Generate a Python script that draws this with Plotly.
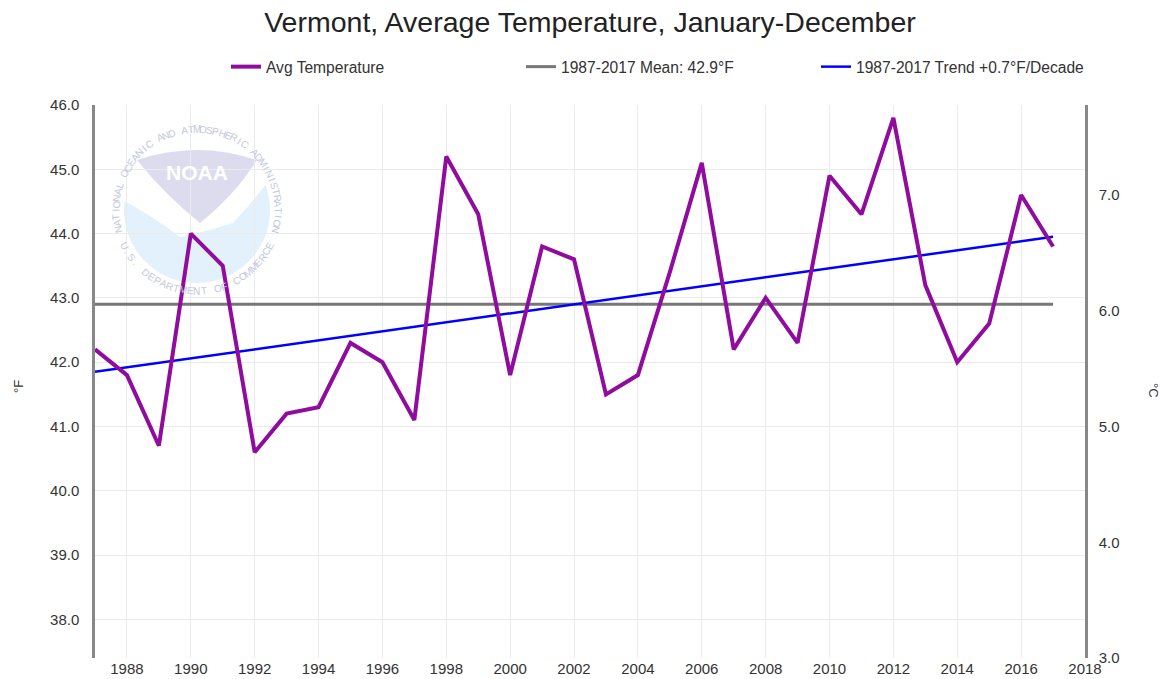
import math
import plotly.graph_objects as go

# ---------------- data ----------------
years = list(range(1987, 2018))
avg_temp_f = [42.2, 41.8, 40.7, 44.0, 43.5, 40.6, 41.2, 41.3, 42.3, 42.0,
              41.1, 45.2, 44.3, 41.8, 43.8, 43.6, 41.5, 41.8, 43.4, 45.1,
              42.2, 43.0, 42.3, 44.9, 44.3, 45.8, 43.2, 42.0, 42.6, 44.6, 43.8]
mean_years = [1987, 2017]
mean_value_f = [42.9, 42.9]
trend_years = [1987, 2017]
trend_values_f = [41.85, 43.95]
x_tick_vals = list(range(1988, 2019, 2))
y_tick_vals = [38, 39, 40, 41, 42, 43, 44, 45, 46]
c_tick_vals = [3, 4, 5, 6, 7]
y_range_f = [37.4, 46.0]

title_text = "Vermont, Average Temperature, January-December"
name_avg = "Avg Temperature"
name_mean = "1987-2017 Mean: 42.9°F"
name_trend = "1987-2017 Trend +0.7°F/Decade"
ring_top = "NATIONAL OCEANIC AND ATMOSPHERIC ADMINISTRATION"
ring_bottom = "U.S. DEPARTMENT OF COMMERCE"

# ---------------- layout geometry ----------------
W, H = 1164, 679
L, R, T, B = 95, 79, 105, 21
PW, PH = W - L - R, H - T - B
FONT = "Liberation Sans, Arial, Helvetica, sans-serif"


def px(x):
    return (x - L) / PW


def py(y):
    return (H - B - y) / PH


fig = go.Figure()

fig.add_trace(go.Scatter(x=mean_years, y=mean_value_f, mode="lines", name=name_mean,
                         line=dict(color="#777777", width=3), legendrank=2))
fig.add_trace(go.Scatter(x=trend_years, y=trend_values_f, mode="lines", name=name_trend,
                         line=dict(color="#0000ff", width=2.5), legendrank=3))
fig.add_trace(go.Scatter(x=years, y=avg_temp_f, mode="lines", name=name_avg,
                         line=dict(color="#900c9e", width=4), legendrank=1))
fig.add_trace(go.Scatter(x=[], y=[], yaxis="y2", showlegend=False, hoverinfo="skip"))

# ---------------- NOAA watermark ----------------
cx, cy, rd = 197, 210, 73
shapes = []
shapes.append(dict(type="circle", xref="paper", yref="paper", layer="below",
                   x0=px(cx - rd), x1=px(cx + rd), y0=py(cy + rd), y1=py(cy - rd),
                   fillcolor="#e2f1fb", line=dict(width=0)))


def pth(cmds):
    out = []
    for c in cmds:
        if isinstance(c, str):
            out.append(c)
        else:
            out.append(f"{px(c[0]):.5f},{py(c[1]):.5f}")
    return " ".join(out)


white_path = pth(["M", (110, 193), "Q", (150, 214), (180, 237), "Q", (205, 232), (233, 223),
                  "Q", (255, 200), (278, 168), "L", (278, 128), "L", (110, 128), "Z"])
shapes.append(dict(type="path", xref="paper", yref="paper", layer="below", path=white_path,
                   fillcolor="#ffffff", line=dict(width=0)))
lav_path = pth(["M", (137, 160), "Q", (197, 140), (257, 160), "Q", (235, 195), (200, 223),
                "Q", (165, 195), (137, 160), "Z"])
shapes.append(dict(type="path", xref="paper", yref="paper", layer="below", path=lav_path,
                   fillcolor="#dcdcee", line=dict(width=0)))


def ann(text, x, y, size, color, angle=0):
    return dict(text=text, x=px(x), y=py(y), xref="paper", yref="paper",
                xanchor="center", yanchor="middle", showarrow=False, textangle=angle,
                font=dict(family=FONT, size=size, color=color))


annotations = [ann("<b>NOAA</b>", 197, 172, 21, "#ffffff")]
ring_r = 81
ring_col = "#c2c8de"
n = len(ring_top)
a0, a1 = 194, -14
for i, ch in enumerate(ring_top):
    th = a0 + (a1 - a0) * i / (n - 1)
    xr = cx + ring_r * math.cos(math.radians(th))
    yr = cy - ring_r * math.sin(math.radians(th))
    annotations.append(ann(ch, xr, yr, 10, ring_col, 90 - th))
n2 = len(ring_bottom)
b0, b1 = 206, 334
for i, ch in enumerate(ring_bottom):
    th = b0 + (b1 - b0) * i / (n2 - 1)
    xr = cx + ring_r * math.cos(math.radians(th))
    yr = cy - ring_r * math.sin(math.radians(th))
    annotations.append(ann(ch, xr, yr, 10, ring_col, 270 - th))

# axis titles
annotations.append(ann("°F", 18, 387, 13, "#333333", -90))
annotations.append(ann("°C", 1154, 390, 13, "#333333", 90))

c_range = [(v - 32) / 1.8 for v in y_range_f]

fig.update_layout(
    template="none",
    width=W, height=H,
    margin=dict(l=L, r=R, t=T, b=B, pad=0, autoexpand=False),
    paper_bgcolor="#ffffff", plot_bgcolor="#ffffff",
    font=dict(family=FONT, size=15, color="#333333"),
    title=dict(text=title_text, x=0.5, xref="paper", xanchor="center",
               y=1 - 22 / H, yanchor="middle",
               font=dict(family=FONT, size=28.5, color="#222222")),
    showlegend=True,
    legend=dict(orientation="h", xref="container", yref="container",
                x=226 / W, xanchor="left", y=1 - 67 / H, yanchor="middle",
                entrywidth=250, entrywidthmode="pixels",
                font=dict(family=FONT, size=15.6, color="#333333"),
                bgcolor="rgba(0,0,0,0)", borderwidth=0, traceorder="normal"),
    xaxis=dict(range=[1987, 2018], tickvals=x_tick_vals, showgrid=True, gridcolor="#ebebeb",
               gridwidth=1, zeroline=False, showline=False, ticks="", automargin=False,
               tickfont=dict(family=FONT, size=15, color="#333333")),
    yaxis=dict(range=y_range_f, tickvals=y_tick_vals, tickformat=".1f", showgrid=True,
               gridcolor="#ebebeb", gridwidth=1, zeroline=False, showline=True,
               linecolor="#888888", linewidth=2.5, ticks="", ticklabelstandoff=10,
               automargin=False,
               tickfont=dict(family=FONT, size=15, color="#333333")),
    yaxis2=dict(range=c_range, tickvals=c_tick_vals, tickformat=".1f", overlaying="y",
                side="right", showgrid=False, zeroline=False, showline=True,
                linecolor="#888888", linewidth=2.5, ticks="", ticklabelstandoff=8,
                automargin=False,
                tickfont=dict(family=FONT, size=15, color="#333333")),
    shapes=shapes,
    annotations=annotations,
)

fig.write_html("out.html", config={"displayModeBar": False},
               post_script="document.body.style.margin='0';document.body.style.overflow='hidden';")
